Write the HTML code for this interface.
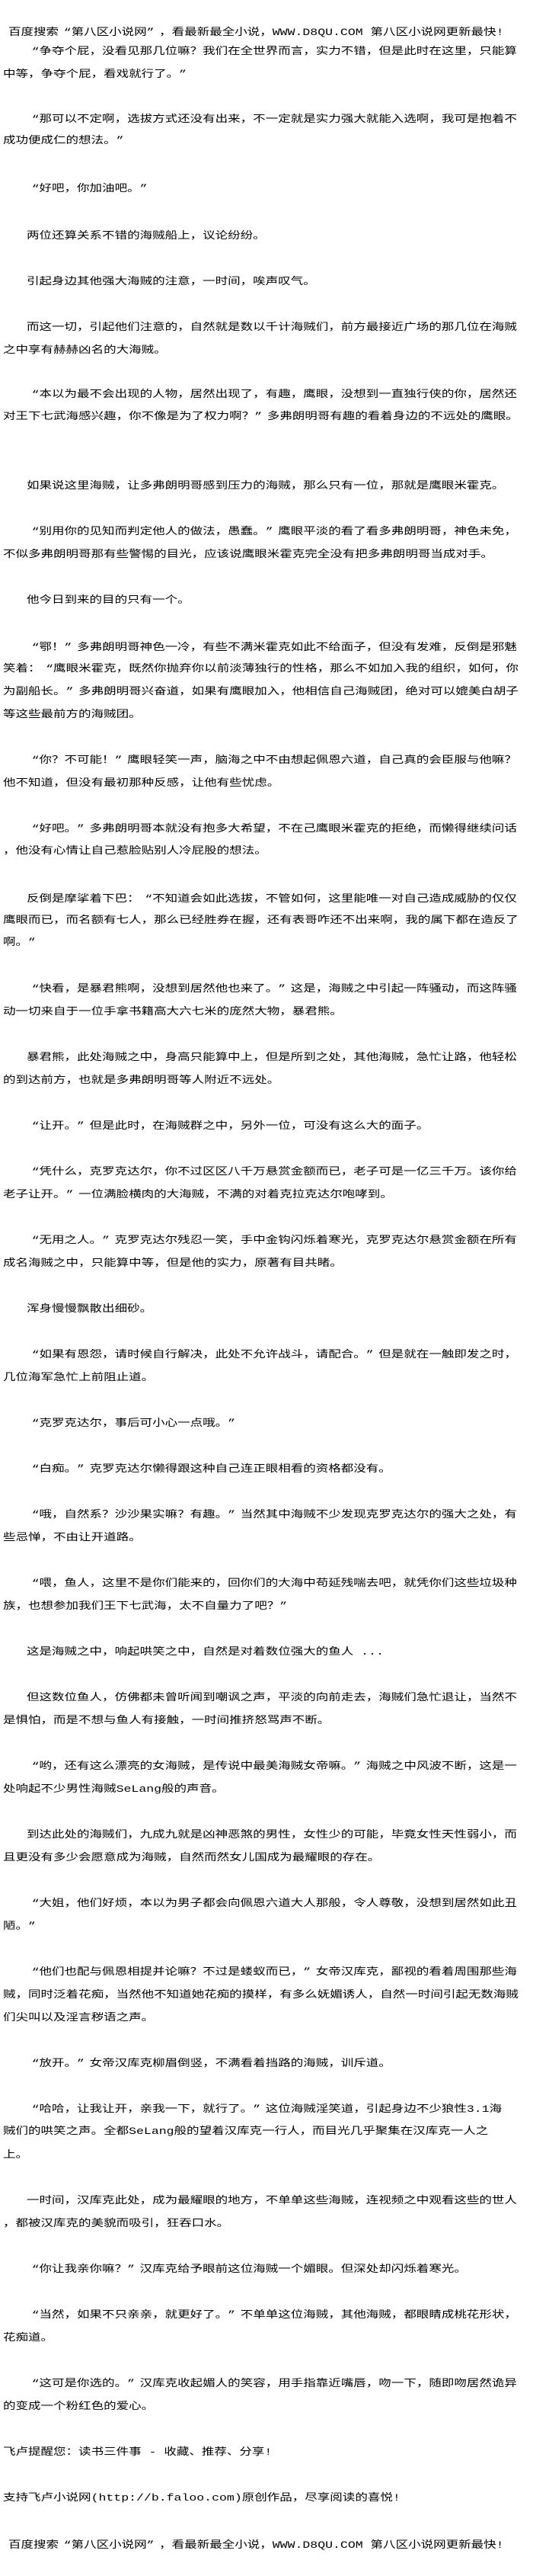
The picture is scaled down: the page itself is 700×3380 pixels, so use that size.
<!DOCTYPE html>
<html><head><meta charset="utf-8"><style>
html,body{margin:0;padding:0;background:#fff;}
body{width:700px;height:3380px;position:relative;overflow:hidden;}
.l{position:absolute;left:4px;height:20px;line-height:20px;font-size:13px;color:#000;white-space:nowrap;
transform:scaleX(1.27);transform-origin:0 0;font-family:"Liberation Mono","Noto Sans CJK SC",monospace;}
.i{left:35px;}
.h{left:11px;}
b{font-weight:normal;display:inline-block;width:1em;text-align:right;}
u{text-decoration:none;display:inline-block;width:1em;text-align:left;}
</style></head><body>
<div class="l h" style="top:33px">百度搜索<b>“</b>第八区小说网<u>”</u>，看最新最全小说，WWW.D8QU.COM  第八区小说网更新最快!</div>
<div class="l i" style="top:58px"><b>“</b>争夺个屁，没看见那几位嘛？我们在全世界而言，实力不错，但是此时在这里，只能算</div>
<div class="l" style="top:88px">中等，争夺个屁，看戏就行了。<u>”</u></div>
<div class="l i" style="top:147px"><b>“</b>那可以不定啊，选拔方式还没有出来，不一定就是实力强大就能入选啊，我可是抱着不</div>
<div class="l" style="top:175px">成功便成仁的想法。<u>”</u></div>
<div class="l i" style="top:238px"><b>“</b>好吧，你加油吧。<u>”</u></div>
<div class="l i" style="top:300px">两位还算关系不错的海贼船上，议论纷纷。</div>
<div class="l i" style="top:360px">引起身边其他强大海贼的注意，一时间，唉声叹气。</div>
<div class="l i" style="top:420px">而这一切，引起他们注意的，自然就是数以千计海贼们，前方最接近广场的那几位在海贼</div>
<div class="l" style="top:450px">之中享有赫赫凶名的大海贼。</div>
<div class="l i" style="top:508px"><b>“</b>本以为最不会出现的人物，居然出现了，有趣，鹰眼，没想到一直独行侠的你，居然还</div>
<div class="l" style="top:537px">对王下七武海感兴趣，你不像是为了权力啊？<u>”</u>多弗朗明哥有趣的看着身边的不远处的鹰眼。</div>
<div class="l i" style="top:628px">如果说这里海贼，让多弗朗明哥感到压力的海贼，那么只有一位，那就是鹰眼米霍克。</div>
<div class="l i" style="top:688px"><b>“</b>别用你的见知而判定他人的做法，愚蠢。<u>”</u>鹰眼平淡的看了看多弗朗明哥，神色未免，</div>
<div class="l" style="top:718px">不似多弗朗明哥那有些警惕的目光，应该说鹰眼米霍克完全没有把多弗朗明哥当成对手。</div>
<div class="l i" style="top:778px">他今日到来的目的只有一个。</div>
<div class="l i" style="top:840px"><b>“</b>鄂！<u>”</u>多弗朗明哥神色一冷，有些不满米霍克如此不给面子，但没有发难，反倒是邪魅</div>
<div class="l" style="top:868px">笑着：<b>“</b>鹰眼米霍克，既然你抛弃你以前淡薄独行的性格，那么不如加入我的组织，如何，你</div>
<div class="l" style="top:898px">为副船长。<u>”</u>多弗朗明哥兴奋道，如果有鹰眼加入，他相信自己海贼团，绝对可以媲美白胡子</div>
<div class="l" style="top:928px">等这些最前方的海贼团。</div>
<div class="l i" style="top:988px"><b>“</b>你？不可能！<u>”</u>鹰眼轻笑一声，脑海之中不由想起佩恩六道，自己真的会臣服与他嘛？</div>
<div class="l" style="top:1018px">他不知道，但没有最初那种反感，让他有些忧虑。</div>
<div class="l i" style="top:1078px"><b>“</b>好吧。<u>”</u>多弗朗明哥本就没有抱多大希望，不在己鹰眼米霍克的拒绝，而懒得继续问话</div>
<div class="l" style="top:1107px">，他没有心情让自己惹脸贴别人冷屁股的想法。</div>
<div class="l i" style="top:1170px">反倒是摩挲着下巴：<b>“</b>不知道会如此选拔，不管如何，这里能唯一对自己造成威胁的仅仅</div>
<div class="l" style="top:1198px">鹰眼而已，而名额有七人，那么已经胜券在握，还有表哥咋还不出来啊，我的属下都在造反了</div>
<div class="l" style="top:1227px">啊。<u>”</u></div>
<div class="l i" style="top:1288px"><b>“</b>快看，是暴君熊啊，没想到居然他也来了。<u>”</u>这是，海贼之中引起一阵骚动，而这阵骚</div>
<div class="l" style="top:1318px">动一切来自于一位手拿书籍高大六七米的庞然大物，暴君熊。</div>
<div class="l i" style="top:1378px">暴君熊，此处海贼之中，身高只能算中上，但是所到之处，其他海贼，急忙让路，他轻松</div>
<div class="l" style="top:1408px">的到达前方，也就是多弗朗明哥等人附近不远处。</div>
<div class="l i" style="top:1468px"><b>“</b>让开。<u>”</u>但是此时，在海贼群之中，另外一位，可没有这么大的面子。</div>
<div class="l i" style="top:1528px"><b>“</b>凭什么，克罗克达尔，你不过区区八千万悬赏金额而已，老子可是一亿三千万。该你给</div>
<div class="l" style="top:1558px">老子让开。<u>”</u>一位满脸横肉的大海贼，不满的对着克拉克达尔咆哮到。</div>
<div class="l i" style="top:1618px"><b>“</b>无用之人。<u>”</u>克罗克达尔残忍一笑，手中金钩闪烁着寒光，克罗克达尔悬赏金额在所有</div>
<div class="l" style="top:1648px">成名海贼之中，只能算中等，但是他的实力，原著有目共睹。</div>
<div class="l i" style="top:1708px">浑身慢慢飘散出细砂。</div>
<div class="l i" style="top:1768px"><b>“</b>如果有恩怨，请时候自行解决，此处不允许战斗，请配合。<u>”</u>但是就在一触即发之时，</div>
<div class="l" style="top:1798px">几位海军急忙上前阻止道。</div>
<div class="l i" style="top:1858px"><b>“</b>克罗克达尔，事后可小心一点哦。<u>”</u></div>
<div class="l i" style="top:1918px"><b>“</b>白痴。<u>”</u>克罗克达尔懒得跟这种自己连正眼相看的资格都没有。</div>
<div class="l i" style="top:1978px"><b>“</b>哦，自然系？沙沙果实嘛？有趣。<u>”</u>当然其中海贼不少发现克罗克达尔的强大之处，有</div>
<div class="l" style="top:2008px">些忌惮，不由让开道路。</div>
<div class="l i" style="top:2068px"><b>“</b>喂，鱼人，这里不是你们能来的，回你们的大海中苟延残喘去吧，就凭你们这些垃圾种</div>
<div class="l" style="top:2098px">族，也想参加我们王下七武海，太不自量力了吧？<u>”</u></div>
<div class="l i" style="top:2158px">这是海贼之中，响起哄笑之中，自然是对着数位强大的鱼人 ...</div>
<div class="l i" style="top:2218px">但这数位鱼人，仿佛都未曾听闻到嘲讽之声，平淡的向前走去，海贼们急忙退让，当然不</div>
<div class="l" style="top:2248px">是惧怕，而是不想与鱼人有接触，一时间推挤怒骂声不断。</div>
<div class="l i" style="top:2308px"><b>“</b>哟，还有这么漂亮的女海贼，是传说中最美海贼女帝嘛。<u>”</u>海贼之中风波不断，这是一</div>
<div class="l" style="top:2338px">处响起不少男性海贼SeLang般的声音。</div>
<div class="l i" style="top:2398px">到达此处的海贼们，九成九就是凶神恶煞的男性，女性少的可能，毕竟女性天性弱小，而</div>
<div class="l" style="top:2428px">且更没有多少会愿意成为海贼，自然而然女儿国成为最耀眼的存在。</div>
<div class="l i" style="top:2488px"><b>“</b>大姐，他们好烦，本以为男子都会向佩恩六道大人那般，令人尊敬，没想到居然如此丑</div>
<div class="l" style="top:2518px">陋。<u>”</u></div>
<div class="l i" style="top:2578px"><b>“</b>他们也配与佩恩相提并论嘛？不过是蝼蚁而已，<u>”</u>女帝汉库克，鄙视的看着周围那些海</div>
<div class="l" style="top:2608px">贼，同时泛着花痴，当然他不知道她花痴的摸样，有多么妩媚诱人，自然一时间引起无数海贼</div>
<div class="l" style="top:2638px">们尖叫以及淫言秽语之声。</div>
<div class="l i" style="top:2698px"><b>“</b>放开。<u>”</u>女帝汉库克柳眉倒竖，不满看着挡路的海贼，训斥道。</div>
<div class="l i" style="top:2758px"><b>“</b>哈哈，让我让开，亲我一下，就行了。<u>”</u>这位海贼淫笑道，引起身边不少狼性3.1海</div>
<div class="l" style="top:2787px">贼们的哄笑之声。全都SeLang般的望着汉库克一行人，而目光几乎聚集在汉库克一人之</div>
<div class="l" style="top:2818px">上。</div>
<div class="l i" style="top:2878px">一时间，汉库克此处，成为最耀眼的地方，不单单这些海贼，连视频之中观看这些的世人</div>
<div class="l" style="top:2908px">，都被汉库克的美貌而吸引，狂吞口水。</div>
<div class="l i" style="top:2968px"><b>“</b>你让我亲你嘛？<u>”</u>汉库克给予眼前这位海贼一个媚眼。但深处却闪烁着寒光。</div>
<div class="l i" style="top:3028px"><b>“</b>当然，如果不只亲亲，就更好了。<u>”</u>不单单这位海贼，其他海贼，都眼睛成桃花形状，</div>
<div class="l" style="top:3058px">花痴道。</div>
<div class="l i" style="top:3118px"><b>“</b>这可是你选的。<u>”</u>汉库克收起媚人的笑容，用手指靠近嘴唇，吻一下，随即吻居然诡异</div>
<div class="l" style="top:3148px">的变成一个粉红色的爱心。</div>
<div class="l" style="top:3208px">飞卢提醒您：读书三件事 - 收藏、推荐、分享!</div>
<div class="l" style="top:3268px">支持飞卢小说网(http://b.faloo.com)原创作品，尽享阅读的喜悦!</div>
<div class="l h" style="top:3330px">百度搜索<b>“</b>第八区小说网<u>”</u>，看最新最全小说，WWW.D8QU.COM  第八区小说网更新最快!</div>
</body></html>
